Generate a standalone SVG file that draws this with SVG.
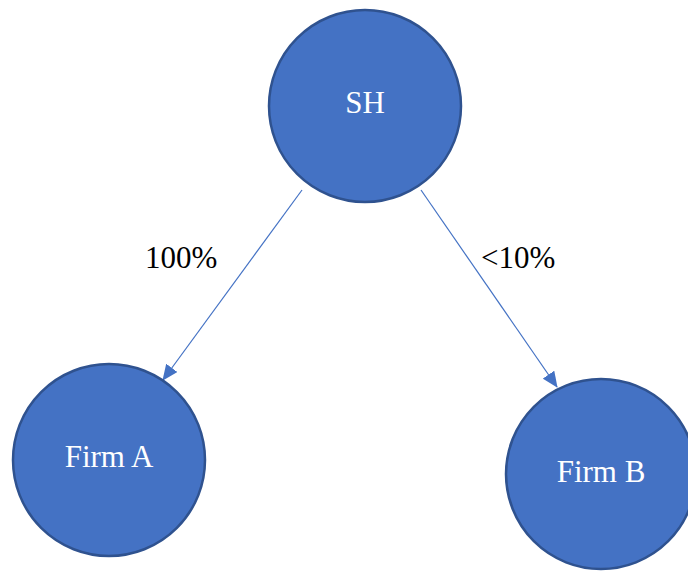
<svg xmlns="http://www.w3.org/2000/svg" width="688" height="572" viewBox="0 0 688 572">
<style>
.node circle{fill:#4472C4;stroke:#2F528F;stroke-width:2.5}
.node text{fill:#FFFFFF;font-family:"Liberation Serif","Times New Roman",serif;font-size:31px;text-anchor:middle}
.lbl{fill:#000000;font-family:"Liberation Serif","Times New Roman",serif;font-size:31px}
.conn line{stroke:#4472C4;stroke-width:1.2;fill:none}
</style>
<defs>
<marker id="ah" markerWidth="16" markerHeight="14" refX="15" refY="7" orient="auto" markerUnits="userSpaceOnUse" viewBox="0 0 16 14">
<path d="M0,0 L16,7 L0,14 Z" fill="#4472C4"/>
</marker>
</defs>
<rect width="688" height="572" fill="#FFFFFF"/>
<g id="connectors" class="conn">
<line x1="302" y1="190" x2="163" y2="380" marker-end="url(#ah)"/>
<line x1="421" y1="190" x2="557" y2="387" marker-end="url(#ah)"/>
</g>
<g id="node-sh" class="node">
<circle cx="365" cy="106" r="96"/>
<text x="365" y="113">SH</text>
</g>
<g id="node-firm-a" class="node">
<circle cx="109" cy="460" r="96"/>
<text x="109" y="467">Firm A</text>
</g>
<g id="node-firm-b" class="node">
<circle cx="601" cy="474" r="95"/>
<text x="601" y="482">Firm B</text>
</g>
<text class="lbl" x="145" y="268">100%</text>
<text class="lbl" x="481" y="268">&lt;10%</text>
</svg>
